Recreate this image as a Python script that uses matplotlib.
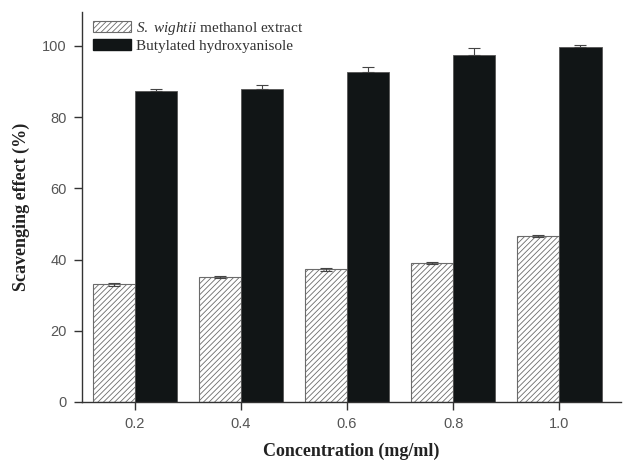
import numpy as np
import matplotlib.pyplot as plt
from matplotlib.patches import Patch

# Scavenging effect values
concentration = [0.2, 0.4, 0.6, 0.8, 1.0]
tick_labels = ["0.2", "0.4", "0.6", "0.8", "1.0"]
extract_mean = [33.0, 35.0, 37.3, 39.0, 46.7]
extract_err = [0.4, 0.3, 0.4, 0.3, 0.3]
bha_mean = [87.4, 87.9, 92.6, 97.4, 99.7]
bha_err = [0.5, 1.2, 1.4, 1.9, 0.4]

plt.rcParams["hatch.linewidth"] = 0.6
plt.rcParams["hatch.color"] = "#6b6b6b"
plt.rcParams["mathtext.fontset"] = "custom"
plt.rcParams["mathtext.it"] = "Liberation Serif:italic"
plt.rcParams["mathtext.rm"] = "Liberation Serif"

fig = plt.figure(figsize=(6.24, 4.61), dpi=100)
ax = fig.add_axes([0.1314, 0.128, 0.864, 0.846])

x = np.array(concentration)
w = 0.08
ax.bar(x - w / 2, extract_mean, width=w, color="white", edgecolor="#6b6b6b",
       hatch="//////", linewidth=0.8,
       yerr=extract_err, error_kw=dict(ecolor="#444444", elinewidth=0.8, capsize=4, capthick=0.8))
ax.bar(x + w / 2, bha_mean, width=w, color="#111516", edgecolor="#555555", linewidth=0.6,
       yerr=[np.zeros(len(bha_err)), bha_err],
       error_kw=dict(ecolor="#444444", elinewidth=0.8, capsize=4, capthick=0.8))

ax.set_xlim(0.1, 1.117)
ax.set_ylim(0, 109.5)
ax.set_xticks(concentration)
ax.set_xticklabels(tick_labels)
ax.set_yticks([0, 20, 40, 60, 80, 100])

for s in ["top", "right"]:
    ax.spines[s].set_visible(False)
for s in ["left", "bottom"]:
    ax.spines[s].set_color("#333333")
    ax.spines[s].set_linewidth(1.0)

ax.tick_params(direction="out", length=6, width=1.0, color="#333333",
               labelcolor="#555555", labelsize=10.5, pad=5)
for lab in ax.get_xticklabels() + ax.get_yticklabels():
    lab.set_family("Liberation Sans")

ax.set_xlabel("Concentration (mg/ml)", family="Liberation Serif", fontweight="bold",
              fontsize=13, color="#222222", labelpad=8)
ax.set_ylabel("Scavenging effect (%)", family="Liberation Serif", fontweight="bold",
              fontsize=13, color="#222222", labelpad=9)

handles = [Patch(facecolor="white", edgecolor="#6b6b6b", hatch="//////", linewidth=0.8),
           Patch(facecolor="#111516", edgecolor="#111516")]
labels = [r"$\mathit{S.\ wightii}$ methanol extract", "Butylated hydroxyanisole"]
leg = ax.legend(handles, labels, loc="upper left", bbox_to_anchor=(0.02, 0.98),
                frameon=False, handlelength=2.5, handleheight=0.75, handletextpad=0.3,
                labelspacing=0.15, borderpad=0, borderaxespad=0,
                prop={"family": "Liberation Serif", "size": 11})
for t in leg.get_texts():
    t.set_color("#333333")

fig.savefig("out.png", dpi=100)
plt.close(fig)
